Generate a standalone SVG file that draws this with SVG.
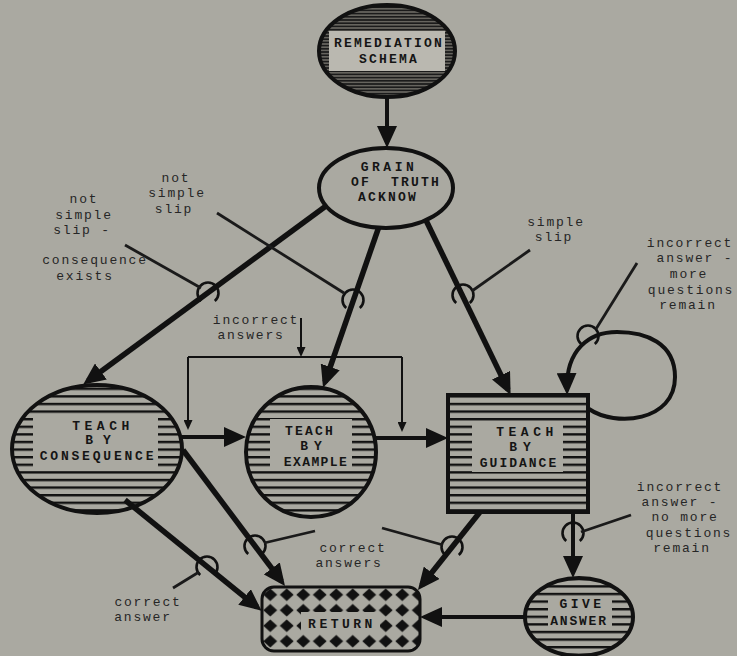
<svg xmlns="http://www.w3.org/2000/svg" width="737" height="656" viewBox="0 0 737 656">
  <defs>
    <style>
      .edge{fill:none;stroke:#111;stroke-width:5.5;}
      .mid{fill:none;stroke:#111;stroke-width:4;}
      .thin{fill:none;stroke:#111;stroke-width:2;}
      .lead{fill:none;stroke:#1a1a1a;stroke-width:2.8;}
      .hop{fill:none;stroke:#111;stroke-width:2.6;}
      .outline{stroke:#111;stroke-width:4;}
      .nt{font-family:"Liberation Mono","DejaVu Sans Mono",monospace;font-weight:bold;font-size:13px;fill:#151515;text-anchor:middle;letter-spacing:2.2px;}
      .lb{font-family:"Liberation Mono","DejaVu Sans Mono",monospace;font-size:13px;fill:#262626;text-anchor:middle;letter-spacing:1.8px;}
    </style>
    <marker id="ah" markerUnits="userSpaceOnUse" markerWidth="22" markerHeight="20" viewBox="0 0 22 20" refX="16" refY="10" orient="auto">
      <path d="M0,0 L22,10 L0,20 z" fill="#111"/>
    </marker>
    <marker id="as" markerUnits="userSpaceOnUse" markerWidth="10" markerHeight="9" viewBox="0 0 10 9" refX="7" refY="4.5" orient="auto">
      <path d="M0,0 L10,4.5 L0,9 z" fill="#111"/>
    </marker>
    <pattern id="stripes" patternUnits="userSpaceOnUse" width="10" height="7.6">
      <rect width="10" height="2.4" fill="#111"/>
    </pattern>
    <pattern id="dense" patternUnits="userSpaceOnUse" width="8" height="3.2">
      <rect width="8" height="3.2" fill="#66645e"/>
      <rect width="8" height="1.6" fill="#1b1b1b"/>
    </pattern>
    <pattern id="diamonds" patternUnits="userSpaceOnUse" x="262" y="587" width="16.5" height="15.5">
      <polygon points="8.25,1.5 15.2,7.75 8.25,14 1.3,7.75" fill="#111"/>
    </pattern>
    <path id="hop" class="hop" d="M-6.8,8 A10.5,10.5 0 1 1 6.8,8"/>
  </defs>

  <rect width="737" height="656" fill="#aaa9a1"/>

  <g id="connectors">
    <!-- main flow -->
    <path class="mid" d="M387,96 L387,142" marker-end="url(#ah)"/>
    <path class="edge" d="M345,192 L88,381" marker-end="url(#ah)"/>
    <path class="edge" d="M383,215 L325,382" marker-end="url(#ah)"/>
    <path class="edge" d="M421,210 L508,389.6" marker-end="url(#ah)"/>
    <path class="mid" d="M181,437 L240,437" marker-end="url(#ah)"/>
    <path class="mid" d="M376,438 L442,438" marker-end="url(#ah)"/>
    <path class="mid" d="M573,512 L573,572" marker-end="url(#ah)"/>
    <path class="mid" d="M525,617 L426,617" marker-end="url(#ah)"/>
    <path class="edge" d="M125,500 L257,607" marker-end="url(#ah)"/>
    <path class="edge" d="M183,450 L281.4,581.2" marker-end="url(#ah)"/>
    <path class="edge" d="M480,512 L421.7,585.3" marker-end="url(#ah)"/>
    <!-- guidance self-loop -->
    <path class="mid" d="M589,409 C615,427 675,422 675,377 C675,343 646,332 617,332 C589,332 566,350 567,389" marker-end="url(#ah)"/>
    <!-- incorrect answers bracket -->
    <path class="thin" d="M301,318 L301,354" marker-end="url(#as)"/>
    <path class="thin" d="M188,357 L402,357"/>
    <path class="thin" d="M188,357 L188,427" marker-end="url(#as)"/>
    <path class="thin" d="M402,357 L402,429" marker-end="url(#as)"/>
    <!-- condition hops -->
    <use href="#hop" x="208" y="293"/>
    <use href="#hop" x="353" y="300"/>
    <use href="#hop" x="463" y="295"/>
    <use href="#hop" x="588" y="336"/>
    <use href="#hop" x="573" y="533"/>
    <use href="#hop" x="452" y="547"/>
    <use href="#hop" x="255" y="546"/>
    <use href="#hop" x="207" y="567"/>
    <!-- condition leaders -->
    <path class="lead" d="M125,245 L201,288"/>
    <path class="lead" d="M217,213 L344,293"/>
    <path class="lead" d="M530,250 L472,291"/>
    <path class="lead" d="M637,263 L596,329"/>
    <path class="lead" d="M631,515 L581,532"/>
    <path class="lead" d="M382,528 L443,545"/>
    <path class="lead" d="M315,531 L264,543"/>
    <path class="lead" d="M173,588 L199,572"/>
  </g>

  <g id="condition-labels">
    <text class="lb" x="84" y="203">not</text>
    <text class="lb" x="84" y="219">simple</text>
    <text class="lb" x="82" y="234">slip -</text>
    <text class="lb" x="95" y="264">consequence</text>
    <text class="lb" x="85" y="280">exists</text>

    <text class="lb" x="176" y="182">not</text>
    <text class="lb" x="177" y="197">simple</text>
    <text class="lb" x="174" y="213">slip</text>

    <text class="lb" x="556" y="226">simple</text>
    <text class="lb" x="554" y="241">slip</text>

    <text class="lb" x="690" y="247">incorrect</text>
    <text class="lb" x="695" y="262">answer -</text>
    <text class="lb" x="689" y="278">more</text>
    <text class="lb" x="691" y="294">questions</text>
    <text class="lb" x="688" y="309">remain</text>

    <text class="lb" x="256" y="324">incorrect</text>
    <text class="lb" x="251" y="339">answers</text>

    <text class="lb" x="680" y="491">incorrect</text>
    <text class="lb" x="680" y="506">answer -</text>
    <text class="lb" x="685" y="521">no more</text>
    <text class="lb" x="689" y="537">questions</text>
    <text class="lb" x="682" y="552">remain</text>

    <text class="lb" x="353" y="552">correct</text>
    <text class="lb" x="349" y="567">answers</text>

    <text class="lb" x="148" y="606">correct</text>
    <text class="lb" x="143" y="621">answer</text>
  </g>

  <g id="remediation-schema">
    <ellipse cx="387" cy="51" rx="68" ry="46" fill="url(#dense)"/>
    <rect x="329" y="31" width="116" height="40" fill="#bab8b0"/>
    <ellipse cx="387" cy="51" rx="68" ry="46" fill="none" class="outline"/>
    <text class="nt" x="389" y="47" style="letter-spacing:2.2px">REMEDIATION</text>
    <text class="nt" x="389" y="63">SCHEMA</text>
  </g>

  <g id="grain-of-truth">
    <ellipse cx="386" cy="188" rx="67" ry="40" fill="#aaa9a1" class="outline"/>
    <text class="nt" x="389" y="171" style="letter-spacing:3.5px">GRAIN</text>
    <text class="nt" x="396" y="186" xml:space="preserve">OF  TRUTH</text>
    <text class="nt" x="388" y="201">ACKNOW</text>
  </g>

  <g id="teach-by-consequence">
    <ellipse cx="97" cy="449" rx="85" ry="64" fill="url(#stripes)"/>
    <rect x="33" y="415" width="125" height="54" fill="#aaa9a1"/>
    <ellipse cx="97" cy="449" rx="85" ry="64" fill="none" class="outline"/>
    <text class="nt" x="103" y="430" style="letter-spacing:4.5px">TEACH</text>
    <text class="nt" x="103" y="444" style="letter-spacing:10px">BY</text>
    <text class="nt" x="98" y="460" style="letter-spacing:2.8px">CONSEQUENCE</text>
  </g>

  <g id="teach-by-example">
    <circle cx="311" cy="452" r="65" fill="url(#stripes)"/>
    <rect x="270" y="419" width="82" height="50" fill="#aaa9a1"/>
    <circle cx="311" cy="452" r="65" fill="none" class="outline"/>
    <text class="nt" x="310" y="435" style="letter-spacing:2.2px">TEACH</text>
    <text class="nt" x="314" y="450" style="letter-spacing:6px">BY</text>
    <text class="nt" x="316" y="466" style="letter-spacing:1.4px">EXAMPLE</text>
  </g>

  <g id="teach-by-guidance">
    <rect x="448" y="395" width="140" height="117" fill="url(#stripes)"/>
    <rect x="472" y="422" width="91" height="50" fill="#aaa9a1"/>
    <rect x="448" y="395" width="140" height="117" fill="none" class="outline"/>
    <text class="nt" x="527" y="436" style="letter-spacing:4.5px">TEACH</text>
    <text class="nt" x="523" y="451" style="letter-spacing:6px">BY</text>
    <text class="nt" x="519" y="467" style="letter-spacing:2px">GUIDANCE</text>
  </g>

  <g id="give-answer">
    <ellipse cx="579" cy="617" rx="54" ry="39" fill="url(#stripes)"/>
    <rect x="548" y="597" width="64" height="33" fill="#aaa9a1"/>
    <ellipse cx="579" cy="617" rx="54" ry="39" fill="none" class="outline"/>
    <text class="nt" x="582" y="608" style="letter-spacing:3.5px">GIVE</text>
    <text class="nt" x="579" y="625" style="letter-spacing:1.8px">ANSWER</text>
  </g>

  <g id="return">
    <rect x="262" y="587" width="158" height="64" rx="12" fill="url(#diamonds)"/>
    <rect x="301" y="612" width="79" height="22" fill="#aaa9a1"/>
    <rect x="262" y="587" width="158" height="64" rx="12" fill="none" stroke="#111" stroke-width="3"/>
    <text class="nt" x="342" y="628" style="letter-spacing:3.5px">RETURN</text>
  </g>
</svg>
